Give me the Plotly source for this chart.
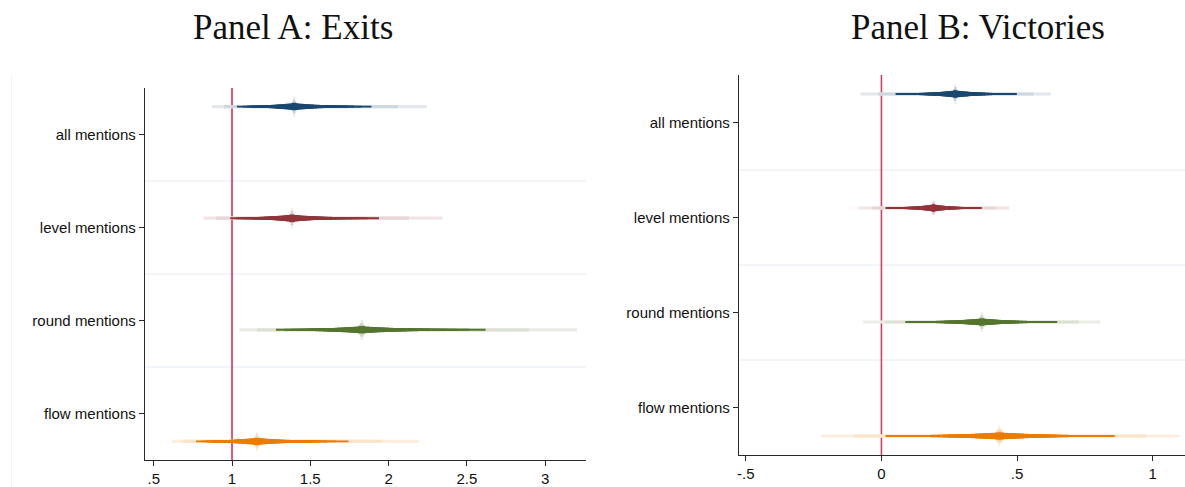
import math
from statistics import NormalDist
import plotly.graph_objects as go

# ---------------- data ----------------
categories = ["all mentions", "level mentions", "round mentions", "flow mentions"]

# Panel A: Exits (exponentiated coefficients)
exits_coef = [1.397, 1.383, 1.829, 1.159]
exits_ci90_lo = [1.032, 0.989, 1.281, 0.770]
exits_ci90_hi = [1.891, 1.939, 2.620, 1.744]
exits_ci99_lo = [0.872, 0.817, 1.047, 0.615]
exits_ci99_hi = [2.244, 2.344, 3.205, 2.195]

# Panel B: Victories
vict_coef = [0.272, 0.192, 0.370, 0.435]
vict_ci90_lo = [0.052, 0.015, 0.088, 0.015]
vict_ci90_hi = [0.499, 0.370, 0.648, 0.860]
vict_ci99_lo = [-0.077, -0.086, -0.067, -0.224]
vict_ci99_hi = [0.624, 0.471, 0.807, 1.099]

exits_ticks = [0.5, 1, 1.5, 2, 2.5, 3]
exits_ticktext = [".5", "1", "1.5", "2", "2.5", "3"]
vict_ticks = [-0.5, 0, 0.5, 1]
vict_ticktext = ["-.5", "0", ".5", "1"]

# ---------------- style ----------------
W, H = 1185, 487
colors = [(26, 71, 111), (144, 53, 59), (85, 117, 47), (232, 125, 2)]
offsets = [-0.3, -0.1, 0.1, 0.3]
ND = NormalDist()
Z90 = ND.inv_cdf(0.95)
Z99 = ND.inv_cdf(0.995)


def tint(c, a):
    r, g, b = (round(255 * (1 - a) + v * a) for v in c)
    return f"rgb({r},{g},{b})"


def ci_bounds(p, tb, l90, h90, l99, h99):
    z = ND.inv_cdf(0.5 + p / 2)
    if z <= Z90:
        f = z / Z90
        return tb - f * l90, tb + f * h90
    f = (z - Z90) / (Z99 - Z90)
    return tb - l90 - f * (l99 - l90), tb + h90 + f * (h99 - h90)


fig = go.Figure()


def add_panel(coef, lo90, hi90, lo99, hi99, xa, ya, use_log):
    fwd = math.log if use_log else (lambda v: v)
    inv = math.exp if use_log else (lambda v: v)
    for i, b in enumerate(coef):
        yy = i + 1 + offsets[i]
        c = colors[i]
        tb = fwd(b)
        l90, h90 = tb - fwd(lo90[i]), fwd(hi90[i]) - tb
        l99, h99 = tb - fwd(lo99[i]), fwd(hi99[i]) - tb

        def seg(p, width, col):
            a, z = ci_bounds(p, tb, l90, h90, l99, h99)
            fig.add_trace(go.Scatter(
                x=[inv(a), inv(z)], y=[yy, yy], mode="lines",
                line=dict(color=col, width=width),
                xaxis=xa, yaxis=ya, hoverinfo="skip", showlegend=False))

        # light outer bands
        seg(0.99, 3.2, tint(c, 0.13))
        seg(0.965, 3.2, tint(c, 0.21))
        # central glow spike
        seg(0.012, 20, tint(c, 0.16))
        seg(0.025, 14, tint(c, 0.26))
        seg(0.045, 9, tint(c, 0.42))
        # tapered dark body
        n = 20
        for k in range(n):
            p = 0.9 - k * (0.9 - 0.05) / (n - 1)
            seg(p, 1.8 + 5.6 * (1 - p) ** 2, tint(c, 1.0))
        fig.add_trace(go.Scatter(
            x=[b], y=[yy], mode="markers",
            marker=dict(color=tint(c, 1.0), size=7),
            xaxis=xa, yaxis=ya, hoverinfo="skip", showlegend=False))


add_panel(exits_coef, exits_ci90_lo, exits_ci90_hi, exits_ci99_lo, exits_ci99_hi, "x", "y", True)
add_panel(vict_coef, vict_ci90_lo, vict_ci90_hi, vict_ci99_lo, vict_ci99_hi, "x2", "y2", False)

tickfont = dict(family="Liberation Sans, Arial, sans-serif", size=15, color="#111")
axis_common = dict(showline=True, linecolor="#2a2a2a", linewidth=1, ticks="outside",
                   ticklen=5, tickcolor="#2a2a2a", tickwidth=1, showgrid=False,
                   zeroline=False, tickfont=tickfont, mirror=False)

fig.update_layout(
    width=W, height=H,
    margin=dict(l=0, r=0, t=0, b=0),
    paper_bgcolor="white", plot_bgcolor="white",
    xaxis=dict(domain=[143 / W, 585 / W], range=[0.4426, 3.2615], anchor="y",
               tickmode="array", tickvals=exits_ticks, ticktext=exits_ticktext, **axis_common),
    yaxis=dict(domain=[(H - 460) / H, (H - 88) / H], range=[4.5, 0.5], anchor="x",
               tickmode="array", tickvals=[1, 2, 3, 4], ticktext=categories, **axis_common),
    xaxis2=dict(domain=[738 / W, 1.0], range=[-0.526, 1.119], anchor="y2",
                tickmode="array", tickvals=vict_ticks, ticktext=vict_ticktext, **axis_common),
    yaxis2=dict(domain=[(H - 455) / H, (H - 75) / H], range=[4.5, 0.5], anchor="x2",
                tickmode="array", tickvals=[1, 2, 3, 4], ticktext=categories, **axis_common),
)

shapes = []
for xa, ya in (("x", "y"), ("x2", "y2")):
    for sep in (1.5, 2.5, 3.5):
        shapes.append(dict(type="line", xref=f"{xa} domain", x0=0, x1=1, yref=ya, y0=sep, y1=sep,
                           line=dict(color="#e6ecf0", width=1), layer="below"))
shapes.append(dict(type="line", xref="x", x0=1, x1=1, yref="y domain", y0=0, y1=1,
                   line=dict(color="#d5123d", width=1.4), layer="below"))
shapes.append(dict(type="line", xref="x2", x0=0, x1=0, yref="y2 domain", y0=0, y1=1,
                   line=dict(color="#d63c64", width=1.6), layer="below"))
shapes.append(dict(type="line", xref="paper", x0=9.5 / W, x1=9.5 / W, yref="paper",
                   y0=0, y1=(H - 75) / H, line=dict(color="#f3f3f3", width=1), layer="below"))
fig.update_layout(shapes=shapes)

titlefont = dict(family="Liberation Serif, Times New Roman, serif", size=35, color="#111")
fig.add_annotation(text="Panel A: Exits", x=291.5 / W, y=1 - 28 / H, xref="paper", yref="paper",
                   showarrow=False, xanchor="center", yanchor="middle", font=titlefont)
fig.add_annotation(text="Panel B: Victories", x=978 / W, y=1 - 28 / H, xref="paper", yref="paper",
                   showarrow=False, xanchor="center", yanchor="middle", font=titlefont)

fig.write_html("out.html")
